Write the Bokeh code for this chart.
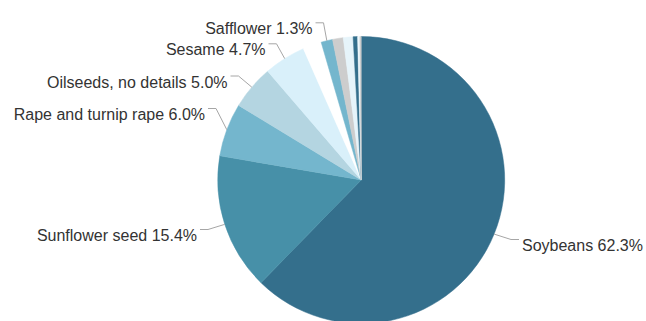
import numpy as np
from bokeh.plotting import figure
from bokeh.models import Range1d, ColumnDataSource
from bokeh.core.properties import value
from bokeh.embed import file_html
from bokeh.resources import INLINE

# ---------------- data ----------------
names = ["Soybeans", "Sunflower seed", "Rape and turnip rape", "Oilseeds, no details",
         "Sesame", "(unlabelled 1)", "Safflower", "(unlabelled 2)", "(unlabelled 3)",
         "(unlabelled 4)", "(unlabelled 5)", "(unlabelled 6)"]
values = [62.3, 15.4, 6.0, 5.0, 4.7, 2.1, 1.3, 1.2, 1.1, 0.5, 0.25, 0.15]
shown = [True, True, True, True, True, False, True, False, False, False, False, False]

# ---------------- style ----------------
colors = ["#346f8c", "#4790a8", "#74b6cd", "#b4d5e1", "#d9f0fa", "#ffffff",
          "#74b6cd", "#cdcdcd", "#e6f4fa", "#346f8c", "#eef8fc", "#cdcdcd"]

# label layout (page px): anchor x of text edge, baseline y, alignment
label_layout = {
    "Soybeans": (521.5, 245.0, "left"),
    "Sunflower seed": (196.5, 235.0, "right"),
    "Rape and turnip rape": (204.5, 114.0, "right"),
    "Oilseeds, no details": (227.0, 81.5, "right"),
    "Sesame": (265.0, 49.3, "right"),
    "Safflower": (312.0, 28.3, "right"),
}

W, H = 646, 321
cx, cy_page, r = 360.7, 179.5, 143.5


def Y(yp):
    return H - yp


vals = np.array(values, dtype=float)
frac = vals / vals.sum()
cum = np.cumsum(frac)
th_s = 360.0 * (cum - frac)
th_e = 360.0 * cum
start = np.radians(90.0 - th_e)
end = np.radians(90.0 - th_s)

p = figure(width=W, height=H, output_backend="svg", toolbar_location=None,
           x_range=Range1d(0, W), y_range=Range1d(0, H),
           x_axis_type=None, y_axis_type=None, min_border=0)
p.outline_line_color = None
p.grid.visible = False
p.background_fill_color = "white"
p.border_fill_color = "white"

src = ColumnDataSource(dict(name=names, val=values, color=colors,
                            start=start.tolist(), end=end.tolist()))
p.wedge(x=cx, y=Y(cy_page), radius=r, start_angle="start", end_angle="end",
        direction="anticlock", fill_color="color", line_color="color",
        line_width=0.5, source=src)

# labels and connectors
lx, ly, lt, la = [], [], [], []
cxs, cys = [], []
for i, n in enumerate(names):
    if not shown[i]:
        continue
    ax, by, al = label_layout[n]
    tm = np.radians((th_s[i] + th_e[i]) / 2.0)
    ex = cx + r * np.sin(tm)
    ey = cy_page - r * np.cos(tm)
    my = by - 6.0
    if al == "right":
        x0 = ax + 3.0
        x1 = x0 + 8.0
    else:
        x0 = ax - 3.0
        x1 = x0 - 8.0
    cxs.append([x0, x1, ex])
    cys.append([Y(my), Y(my), Y(ey)])
    lx.append(ax)
    ly.append(Y(by))
    lt.append(f"{n} {values[i]:.1f}%")
    la.append(al)

p.multi_line(xs=cxs, ys=cys, line_color="#a6a6a6", line_width=1)
p.text(x=lx, y=ly, text=lt, text_align=la, text_baseline="alphabetic",
       text_font=value("Liberation Sans"), text_font_size="16px",
       text_color="#333333")

open("out.html", "w").write(file_html(p, INLINE))
